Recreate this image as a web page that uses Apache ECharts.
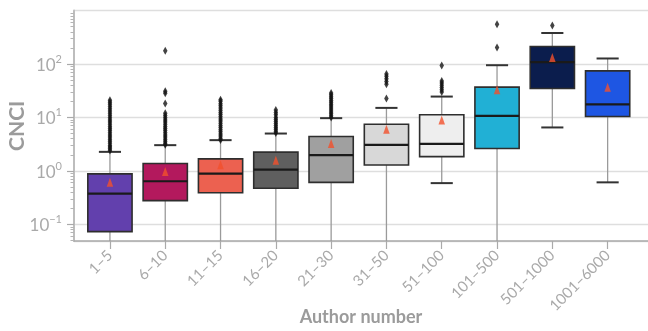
<!DOCTYPE html>
<html>
<head>
<meta charset="utf-8">
<script src="https://cdn.jsdelivr.net/npm/echarts@6/dist/echarts.min.js"></script>
<style>
  html, body { margin: 0; padding: 0; background: #ffffff; }
  #chart { width: 648px; height: 331px; }
</style>
</head>
<body>
<div id="chart"></div>
<script>
// Author-count groups on the horizontal axis
const categories = ['1–5', '6–10', '11–15', '16–20', '21–30', '31–50', '51–100', '101–500', '501–1000', '1001–6000'];

// Box statistics per group (CNCI): lower whisker, Q1, median, Q3, upper whisker
// A lower whisker equal to the axis floor means it runs below the visible range.
const Y_MIN = 0.0487;
const Y_MAX = 1000;
const lowerWhisker = [Y_MIN, Y_MIN, Y_MIN, Y_MIN, Y_MIN, Y_MIN, 0.59, Y_MIN, 6.5, 0.61];
const q1Values     = [0.073, 0.278, 0.39, 0.474, 0.61, 1.29, 1.85, 2.62, 34.8, 10.4];
const medianValues = [0.376, 0.64, 0.89, 1.06, 1.97, 3.07, 3.2, 10.7, 109, 17.5];
const q3Values     = [0.88, 1.37, 1.68, 2.24, 4.39, 7.48, 11.2, 36.9, 213, 74.5];
const upperWhisker = [2.27, 3.03, 3.76, 5.0, 9.7, 15.1, 24.6, 95, 381, 127];
const meanValues   = [0.61, 0.97, 1.3, 1.58, 3.24, 6.0, 9.0, 32.9, 133, 36.9];

// Outliers above the upper whisker, one list per group
const outliers = [
  [2.4, 2.6, 2.8, 3.0, 3.3, 3.6, 3.9, 4.3, 4.7, 5.2, 5.7, 6.2, 6.8, 7.5, 8.2, 9.0, 9.9, 10.9, 12.0, 13.2, 14.5, 16.0, 17.6, 19.3, 21.0],
  [3.1, 3.3, 3.6, 3.9, 4.3, 4.7, 5.2, 5.7, 6.2, 6.8, 7.5, 8.2, 9.0, 9.9, 10.9, 12.0, 18.2, 28.5, 31.0, 178],
  [3.8, 4.1, 4.5, 4.9, 5.4, 5.9, 6.5, 7.1, 7.8, 8.6, 9.4, 10.3, 11.3, 12.4, 13.6, 15.0, 16.5, 18.1, 20.0, 21.5],
  [5.1, 5.5, 6.0, 6.5, 7.1, 7.7, 8.4, 9.2, 10.0, 11.2, 12.4, 13.8],
  [10.0, 10.8, 11.7, 12.7, 13.8, 15.0, 16.3, 17.7, 19.2, 20.8, 22.6, 24.5, 26.6, 28.8],
  [22.6, 42, 47, 53, 59, 65],
  [30, 33, 36.5, 40, 44, 48, 94],
  [203, 556],
  [525],
  []
];

// Box fill colours per group
const boxColors = ['#6240ad', '#b3195d', '#ec6150', '#5f5f5f', '#a0a0a0', '#d8d8d8', '#eeeeee', '#21b0d5', '#0b1d4d', '#1e56e3'];

// Minor log ticks (2..9 times each power of ten) within the visible range
const minorTickValues = [0.05, 0.06, 0.07, 0.08, 0.09,
  0.2, 0.3, 0.4, 0.5, 0.6, 0.7, 0.8, 0.9,
  2, 3, 4, 5, 6, 7, 8, 9,
  20, 30, 40, 50, 60, 70, 80, 90,
  200, 300, 400, 500, 600, 700, 800, 900];

const positions = categories.map((_, i) => i);

const boxData = categories.map((_, i) => [i, lowerWhisker[i], q1Values[i], medianValues[i], q3Values[i], upperWhisker[i]]);
const meanData = categories.map((_, i) => [i, meanValues[i]]);
const outlierData = [];
outliers.forEach((list, i) => list.forEach(v => outlierData.push([i, v])));

const FONT = 'Lato, "Open Sans", sans-serif';
const LABEL_GRAY = '#a9a9a9';
const TITLE_GRAY = '#9b9b9b';

function renderBox(params, api) {
  const i = params.dataIndex;
  const x = api.value(0);
  const lo = api.value(1), q1 = api.value(2), med = api.value(3), q3 = api.value(4), hi = api.value(5);
  const left = api.coord([x - 0.5, q1])[0];
  const right = api.coord([x + 0.5, q1])[0];
  const unit = right - left;
  const cx = api.coord([x, q1])[0];
  const boxW = unit * 0.8;
  const capW = unit * 0.4;
  const yLo = api.coord([x, lo])[1];
  const yQ1 = api.coord([x, q1])[1];
  const yMed = api.coord([x, med])[1];
  const yQ3 = api.coord([x, q3])[1];
  const yHi = api.coord([x, hi])[1];
  const children = [
    { type: 'line', shape: { x1: cx, y1: yQ1, x2: cx, y2: yLo }, style: { stroke: '#9a9a9a', lineWidth: 1.3 } },
    { type: 'line', shape: { x1: cx, y1: yQ3, x2: cx, y2: yHi }, style: { stroke: '#9a9a9a', lineWidth: 1.3 } },
    { type: 'line', shape: { x1: cx - capW / 2, y1: yHi, x2: cx + capW / 2, y2: yHi }, style: { stroke: '#333333', lineWidth: 2 } }
  ];
  if (lo > Y_MIN) {
    children.push({ type: 'line', shape: { x1: cx - capW / 2, y1: yLo, x2: cx + capW / 2, y2: yLo }, style: { stroke: '#333333', lineWidth: 2 } });
  }
  children.push(
    { type: 'rect', shape: { x: cx - boxW / 2, y: yQ3, width: boxW, height: yQ1 - yQ3 }, style: { fill: boxColors[i], stroke: '#2e2e2e', lineWidth: 1.6 } },
    { type: 'line', shape: { x1: cx - boxW / 2, y1: yMed, x2: cx + boxW / 2, y2: yMed }, style: { stroke: '#1a1a1a', lineWidth: 2.2 } }
  );
  return { type: 'group', children };
}

const chart = echarts.init(document.getElementById('chart'), null, { renderer: 'canvas' });
chart.setOption({
  animation: false,
  backgroundColor: '#ffffff',
  grid: { left: 74, right: 0, top: 10.6, bottom: 90, containLabel: false, outerBoundsMode: 'none' },
  xAxis: {
    type: 'value',
    min: -0.65,
    max: 9.73,
    name: 'Author number',
    nameLocation: 'middle',
    nameGap: 67,
    nameMoveOverlap: false,
    nameTextStyle: { fontFamily: FONT, fontSize: 18, fontWeight: 'bold', color: TITLE_GRAY },
    axisLine: { show: true, onZero: false, lineStyle: { color: '#aaaaaa', width: 1.5 } },
    axisTick: { show: true, customValues: positions, length: 8, lineStyle: { color: '#aaaaaa', width: 1.2 } },
    axisLabel: {
      customValues: positions,
      formatter: v => categories[Math.round(v)],
      rotate: 45,
      margin: 12,
      fontFamily: FONT,
      fontSize: 15,
      color: LABEL_GRAY
    },
    splitLine: { show: false }
  },
  yAxis: [{
    type: 'log',
    logBase: 10,
    min: Y_MIN,
    max: Y_MAX,
    name: 'CNCI',
    nameLocation: 'middle',
    nameGap: 46,
    nameMoveOverlap: false,
    nameTextStyle: { fontFamily: FONT, fontSize: 21, fontWeight: 'bold', color: TITLE_GRAY },
    axisLine: { show: true, onZero: false, lineStyle: { color: '#bdbdbd', width: 2 } },
    axisTick: { show: true, length: 7, lineStyle: { color: '#aaaaaa', width: 1.2 } },
    axisLabel: {
      showMinLabel: false,
      showMaxLabel: false,
      margin: 12,
      formatter: v => {
        const e = Math.round(Math.log10(v));
        return '{b|10}{s|' + (e < 0 ? '−' + (-e) : e) + '}';
      },
      rich: {
        b: { fontFamily: FONT, fontSize: 17, color: LABEL_GRAY, verticalAlign: 'bottom', lineHeight: 20 },
        s: { fontFamily: FONT, fontSize: 11, color: LABEL_GRAY, verticalAlign: 'top', lineHeight: 20 }
      }
    },
    splitLine: { show: true, lineStyle: { color: '#dedede', width: 1.3 } }
  }, {
    type: 'log',
    logBase: 10,
    min: Y_MIN,
    max: Y_MAX,
    position: 'left',
    axisLine: { show: false, onZero: false },
    axisTick: { show: true, customValues: minorTickValues, length: 3.5, lineStyle: { color: '#b5b5b5', width: 1 } },
    axisLabel: { show: false },
    splitLine: { show: false }
  }],
  series: [{
    type: 'custom',
    renderItem: renderBox,
    data: boxData,
    encode: { x: 0, y: [1, 2, 3, 4, 5] },
    z: 2
  }, {
    type: 'scatter',
    data: outlierData,
    symbol: 'diamond',
    symbolSize: [4.5, 8],
    itemStyle: { color: '#141414' },
    z: 3
  }, {
    type: 'scatter',
    data: meanData,
    symbol: 'triangle',
    symbolSize: [6.5, 9],
    itemStyle: { color: '#f2502c' },
    z: 4
  }]
});
</script>
</body>
</html>
